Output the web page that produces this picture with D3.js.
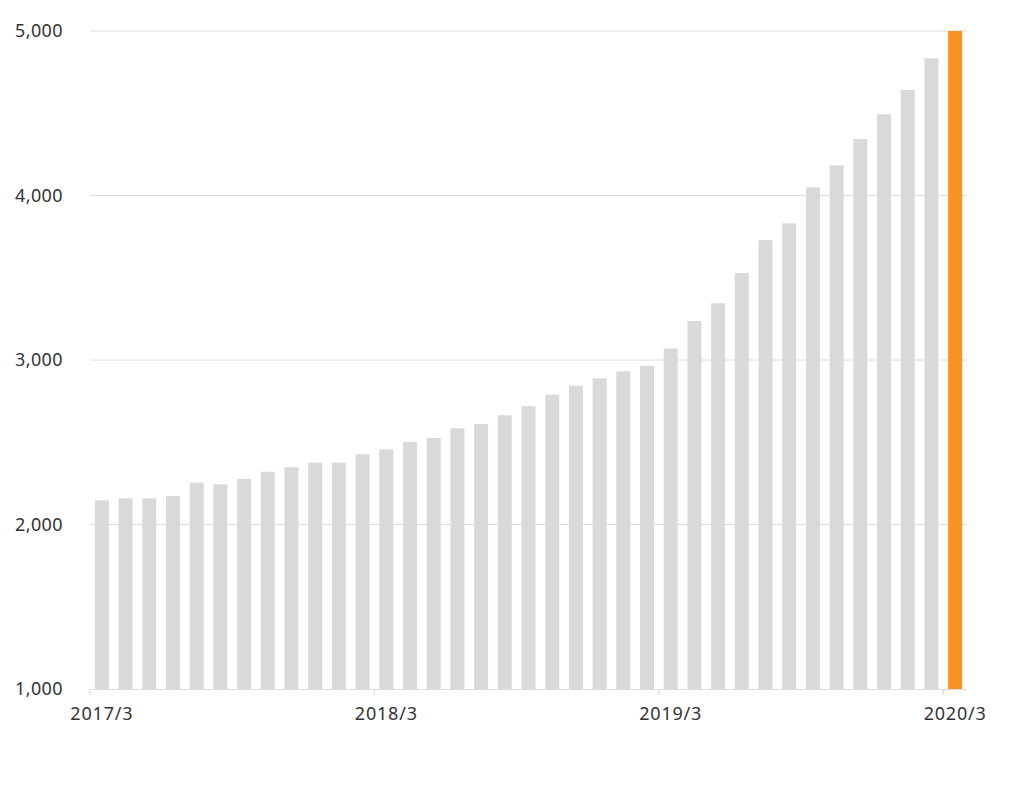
<!DOCTYPE html>
<html>
<head>
<meta charset="utf-8">
<script src="https://cdn.jsdelivr.net/npm/d3@7"></script>
<style>
  html, body { margin: 0; padding: 0; background: #fff; }
  svg { display: block; }
  text { font-family: "Noto Sans", sans-serif; fill: #333; }
</style>
</head>
<body>
<svg id="chart" width="1022" height="791"></svg>
<script>
// Months from 2017/3 to 2020/3
const categories = [
  "2017/3","2017/4","2017/5","2017/6","2017/7","2017/8","2017/9","2017/10","2017/11","2017/12","2018/1","2018/2",
  "2018/3","2018/4","2018/5","2018/6","2018/7","2018/8","2018/9","2018/10","2018/11","2018/12","2019/1","2019/2",
  "2019/3","2019/4","2019/5","2019/6","2019/7","2019/8","2019/9","2019/10","2019/11","2019/12","2020/1","2020/2",
  "2020/3"
];
const values = [
  2147, 2159, 2159, 2173, 2254, 2244, 2277, 2321, 2348, 2376, 2376, 2427,
  2457, 2502, 2526, 2585, 2611, 2664, 2719, 2789, 2844, 2888, 2931, 2965,
  3070, 3237, 3345, 3529, 3729, 3831, 4050, 4183, 4343, 4494, 4641, 4834,
  5000
];
const xTickLabels = ["2017/3", "2018/3", "2019/3", "2020/3"];
const yTicks = [1000, 2000, 3000, 4000, 5000];
const highlight = "2020/3";

const margin = { left: 90, right: 55, top: 31, bottom: 102 };
const W = 1022, H = 791;
const svg = d3.select("#chart");

const x = d3.scaleBand().domain(categories)
  .range([margin.left, W - margin.right]).paddingInner(0.41).paddingOuter(0.205);
const y = d3.scaleLinear().domain([1000, 5000]).range([H - margin.bottom, margin.top]);

// gridlines
svg.append("g").selectAll("line").data(yTicks.filter(d => d > 1000)).join("line")
  .attr("x1", margin.left).attr("x2", W - margin.right)
  .attr("y1", d => y(d)).attr("y2", d => y(d))
  .attr("stroke", "#dcdcdc").attr("stroke-width", 1);

// y labels
svg.append("g").selectAll("text").data(yTicks).join("text")
  .attr("x", 63).attr("y", d => y(d)).attr("dy", "0.35em")
  .attr("text-anchor", "end").attr("font-size", 18).attr("letter-spacing", 0.4)
  .text(d => d3.format(",")(d));

// bars
svg.append("g").selectAll("rect").data(categories).join("rect")
  .attr("x", d => x(d)).attr("width", x.bandwidth())
  .attr("y", (d, i) => y(values[i]))
  .attr("height", (d, i) => y(1000) - y(values[i]))
  .attr("fill", d => d === highlight ? "#f7931e" : "#d9d9d9");

// x axis line
const step = x.step();
svg.append("line")
  .attr("x1", margin.left).attr("x2", W - margin.right)
  .attr("y1", y(1000) + 0.5).attr("y2", y(1000) + 0.5)
  .attr("stroke", "#dcdcdc").attr("stroke-width", 1.2);

// ticks at band start
const xt = svg.append("g");
xt.selectAll("line").data(xTickLabels).join("line")
  .attr("x1", d => x(d) - step * 0.205 - step * 0.0).attr("x2", d => x(d) - step * 0.205)
  .attr("y1", y(1000)).attr("y2", y(1000) + 6)
  .attr("stroke", "#dcdcdc").attr("stroke-width", 1.2);
xt.selectAll("text").data(xTickLabels).join("text")
  .attr("x", d => x(d) + x.bandwidth() / 2).attr("y", y(1000) + 31)
  .attr("text-anchor", "middle").attr("font-size", 18).attr("letter-spacing", 0.8)
  .text(d => d);
</script>
</body>
</html>
